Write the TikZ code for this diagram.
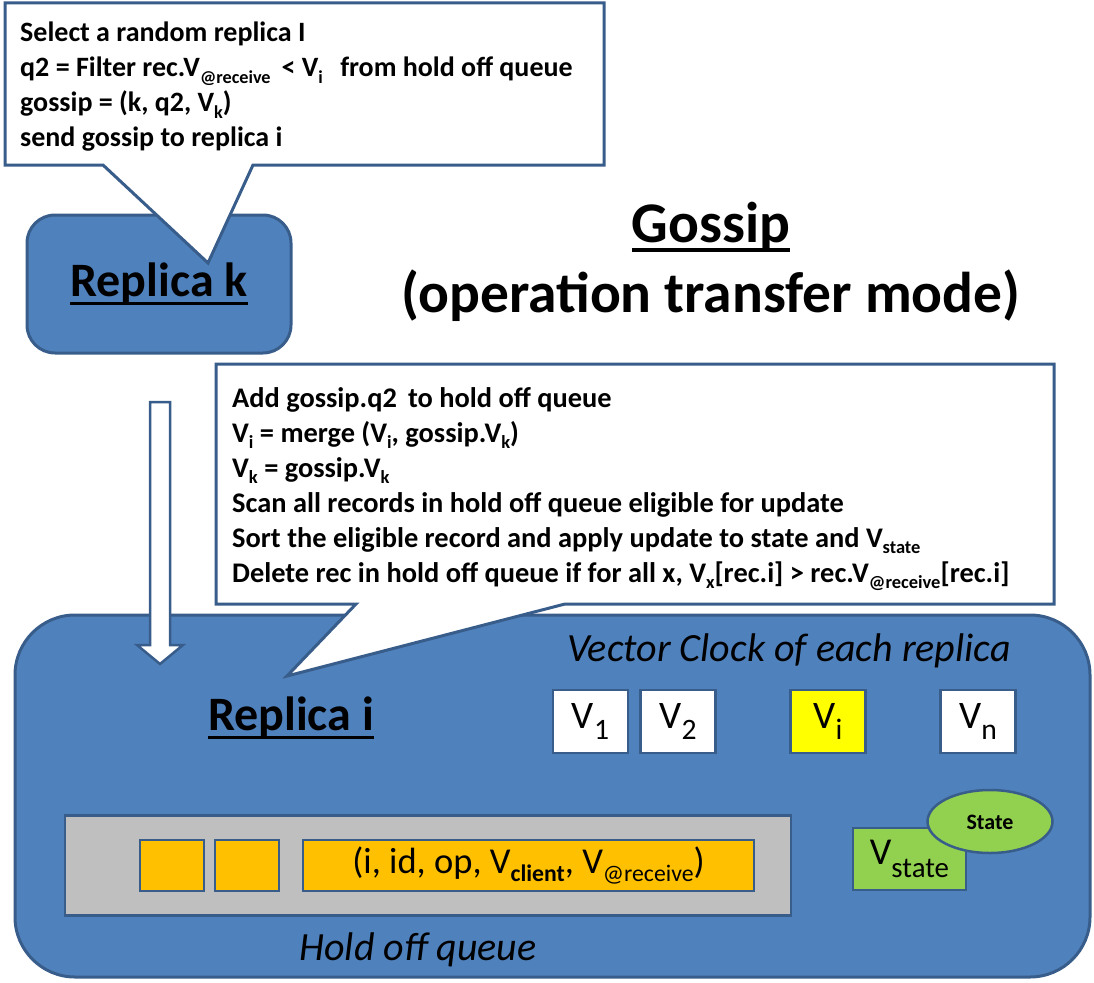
\documentclass[tikz,border=0pt]{standalone}
\usepackage{fontspec}
\setmainfont{Carlito}
\usepackage{graphicx}
\definecolor{boxblue}{HTML}{4F81BD}
\definecolor{edgeblue}{HTML}{385D8A}
\definecolor{qgray}{HTML}{BFBFBF}
\definecolor{qorange}{HTML}{FFC000}
\definecolor{vgreen}{HTML}{92D050}
\definecolor{vyellow}{HTML}{FFFF00}
\newcommand\myul[1]{\setbox0=\hbox{#1}\rlap{\vrule height -0.1em depth 0.17em width \wd0}\box0}
\newcommand\sbs[1]{\raisebox{-0.22em}{\scalebox{0.65}{#1}}}
\newcommand\sbsb[1]{\raisebox{-0.26em}{\scalebox{0.76}{#1}}}
\newcommand\fsbody{\fontsize{28.4}{35}\selectfont}
\begin{document}
\begin{tikzpicture}[x=1pt,y=-1pt,
  rbox/.style={draw=edgeblue, line width=3pt, fill=boxblue},
  callout/.style={draw=edgeblue, line width=3pt, fill=white, line join=miter},
  body/.style={font=\fsbody\bfseries, align=left, inner sep=0pt, anchor=north west},
  vbox/.style={draw=edgeblue, line width=2.5pt, minimum width=75pt, minimum height=63pt, inner sep=0pt, font=\fontsize{39}{40}\selectfont},
  qbox/.style={draw=edgeblue, line width=2.5pt, fill=qorange, inner sep=0pt},
  hollow/.style={draw=edgeblue, line width=2.5pt, fill=white, line join=miter}
]
\useasboundingbox (0,0) rectangle (1094,982);

% replica k
\node[rbox, rounded corners=28pt, minimum width=264pt, minimum height=138pt, inner sep=0pt,
  font=\fontsize{48}{50}\selectfont\bfseries] (rk) at (159,284) {\myul{Replica k}};

% title
\node[font=\fontsize{57.5}{70}\selectfont\bfseries, align=center, inner sep=0pt] (title) at (711,262)
  {\myul{Gossip}\\(operation transfer mode)};

% replica i big box
\node[rbox, rounded corners=60pt, minimum width=1075pt, minimum height=362pt, inner sep=0pt] (ri) at (552.5,796) {};
\node[font=\fontsize{48}{50}\selectfont\bfseries, inner sep=0pt] (rilab) at (291,718) {\myul{Replica i}};
\node[font=\fontsize{40}{42}\selectfont\itshape, inner sep=0pt] (vclab) at (789,651) {Vector Clock of each replica};

% vector clock boxes
\node[vbox, fill=white] (v1) at (590.5,721.5) {V\sbsb{1}};
\node[vbox, fill=white] (v2) at (678,721.5) {V\sbsb{2}};
\node[vbox, fill=vyellow] (vi) at (828,721.5) {V\sbsb{i}};
\node[vbox, fill=white] (vn) at (978,721.5) {V\sbsb{n}};

% hold off queue
\node[draw=edgeblue, line width=2.5pt, fill=qgray, minimum width=726pt, minimum height=100pt, inner sep=0pt] (q) at (428,865.5) {};
\node[qbox, minimum width=64pt, minimum height=51pt] (q1) at (172,865.5) {};
\node[qbox, minimum width=64pt, minimum height=51pt] (q2) at (247,865.5) {};
\node[qbox, minimum width=451pt, minimum height=51pt, font=\fontsize{36.5}{38}\selectfont] (q3) at (528.5,865.5)
  {(i, id, op, V\sbs{\bfseries client}, V\sbs{@receive})};
\node[font=\fontsize{40}{42}\selectfont\itshape, inner sep=0pt] (hoq) at (418,950) {Hold off queue};

% state
\node[draw=edgeblue, line width=2.5pt, fill=vgreen, minimum width=113pt, minimum height=62pt, inner sep=0pt,
  font=\fontsize{38}{40}\selectfont] (vs) at (909.5,859) {\raisebox{0.1em}{V}\sbsb{state}};
\draw[draw=edgeblue, line width=2.5pt, fill=vgreen] (990,821.5) ellipse [x radius=62.5, y radius=31.5];
\node[font=\fontsize{22}{24}\selectfont\bfseries, inner sep=0pt] (st) at (990,822) {State};

% hollow arrow
\coordinate (a1) at (150,402);
\coordinate (a2) at (170,402);
\draw[hollow] (a1) -- (a2) -- (170,645) -- (183,645) -- (160,664) -- (137,645) -- (150,645) -- cycle;

% callout 1
\draw[callout] (5,3) -- (604,3) -- (604,165) -- (253,165) -- (208,263) -- (103,165) -- (5,165) -- cycle;
\node[body, font=\fontsize{28}{35}\selectfont\bfseries] (t1) at (20,22) {Select a random replica I\\
q2 = Filter rec.V\sbs{@receive} {\,}< V\sbs{i} {\,} from hold off queue\\
gossip = (k, q2, V\sbs{k})\\
send gossip to replica i};

% callout 2
\draw[callout] (216,364) -- (1054,364) -- (1054,604) -- (565,604) -- (287,676) -- (356,604) -- (216,604) -- cycle;
\node[body] (t2) at (232,387) {Add gossip.q2 {\,}to hold off queue\\
V\sbs{i} = merge (V\sbs{i}, gossip.V\sbs{k})\\
V\sbs{k} = gossip.V\sbs{k}\\
Scan all records in hold off queue eligible for update\\
Sort the eligible record and apply update to state and V\sbs{state}\\
Delete rec in hold off queue if for all x, V\sbs{x}[rec.i] > rec.V\sbs{@receive}[rec.i]};
\end{tikzpicture}
\end{document}
